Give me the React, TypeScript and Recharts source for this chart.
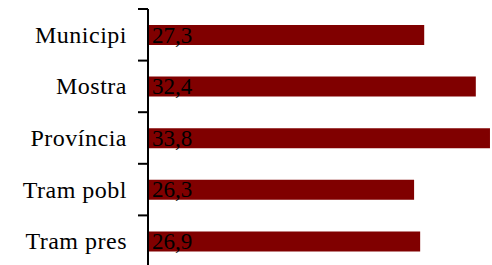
import React from 'react';
import { BarChart, Bar, XAxis, YAxis, LabelList } from 'recharts';

const categories = ['Municipi', 'Mostra', 'Província', 'Tram pobl', 'Tram pres'];
const values = [27.3, 32.4, 33.8, 26.3, 26.9];

const data = categories.map((name, i) => ({ name, value: values[i] }));

const CHART_W = 492;
const CHART_H = 267;
const TOP = 9;
const BAND = (CHART_H - TOP) / categories.length;
const FONT = '"Liberation Serif", serif';

// ticks sit on the band boundaries, labels in the middle
const CategoryTick = (props: any) => {
  const { x, y, payload } = props;
  const axisX = x + 8;
  const top = y - BAND / 2;
  return (
    <g>
      <path d={`M${axisX - 10},${top}H${axisX}`} stroke="#000" strokeWidth={2} fill="none" />
      <text
        x={axisX - 21}
        y={y}
        textAnchor="end"
        dominantBaseline="central"
        fontFamily={FONT}
        fontSize={24}
        letterSpacing={0.5}
        fill="#000"
      >
        {payload.value}
      </text>
    </g>
  );
};

const ValueLabel = (props: any) => {
  const { x, y, height, value } = props;
  return (
    <text
      x={x + 4}
      y={y + height / 2}
      dominantBaseline="central"
      fontFamily={FONT}
      fontSize={23}
      fill="#000"
    >
      {Number(value).toFixed(1).replace('.', ',')}
    </text>
  );
};

const App: React.FC = () => {
  return (
    <div
      style={{
        position: 'absolute',
        left: 0,
        top: 0,
        width: CHART_W,
        height: 265,
        overflow: 'hidden',
        background: '#fff',
      }}
    >
      <BarChart
        width={CHART_W}
        height={CHART_H}
        data={data}
        layout="vertical"
        margin={{ top: TOP, right: 0, bottom: 0, left: 0 }}
      >
        <XAxis type="number" domain={[0, 34]} hide />
        <YAxis
          type="category"
          dataKey="name"
          width={148}
          tickLine={false}
          axisLine={{ stroke: '#000', strokeWidth: 2 }}
          tick={<CategoryTick />}
          interval={0}
        />
        <Bar dataKey="value" fill="#800000" barSize={20} isAnimationActive={false}>
          <LabelList dataKey="value" content={<ValueLabel />} />
        </Bar>
      </BarChart>
    </div>
  );
};

export default App;
